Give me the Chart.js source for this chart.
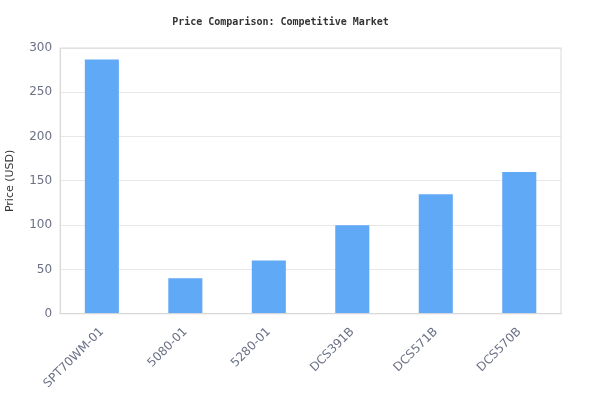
<!DOCTYPE html>
<html>
<head>
<meta charset="utf-8">
<script src="https://cdn.jsdelivr.net/npm/chart.js@4"></script>
<style>
  body { margin: 0; background: #fff; }
  #wrap { width: 600px; height: 420px; }
</style>
</head>
<body>
<div id="wrap"><canvas id="chart"></canvas></div>
<script>
const models = ["SPT70WM-01", "5080-01", "5280-01", "DCS391B", "DCS571B", "DCS570B"];
const prices = [287, 40, 60, 100, 135, 160];

// draws the light frame around the plot area
const frame = {
  id: "frame",
  afterDatasetsDraw(chart) {
    const { ctx, chartArea: a } = chart;
    ctx.save();
    ctx.strokeStyle = "#d9d9d9";
    ctx.lineWidth = 1;
    ctx.strokeRect(a.left, a.top, a.right - a.left, a.bottom - a.top);
    ctx.restore();
  },
};

new Chart(document.getElementById("chart"), {
  type: "bar",
  data: {
    labels: models,
    datasets: [{
      label: "Price (USD)",
      data: prices,
      backgroundColor: "#60a9f6",
      categoryPercentage: 0.8,
      barPercentage: 0.51,
    }],
  },
  options: {
    responsive: true,
    maintainAspectRatio: false,
    animation: false,
    layout: { padding: { left: 0, right: 39, top: 10, bottom: 26 } },
    plugins: {
      legend: { display: false },
      tooltip: { enabled: false },
      title: {
        display: true,
        text: "Price Comparison: Competitive Market",
        color: "#333",
        font: { family: "DejaVu Sans Mono", size: 10, weight: "bold" },
        padding: { top: 6, bottom: 20 },
      },
    },
    scales: {
      x: {
        grid: { display: false },
        border: { color: "#d9d9d9" },
        ticks: {
          color: "#6b7085",
          font: { family: "DejaVu Sans", size: 12 },
          maxRotation: 45,
          minRotation: 45,
        },
      },
      y: {
        min: 0,
        max: 300,
        ticks: {
          stepSize: 50,
          color: "#6b7085",
          font: { family: "DejaVu Sans", size: 12 },
          padding: 8,
        },
        grid: { color: "#e8e8e8", drawTicks: false },
        border: { color: "#d9d9d9" },
        title: {
          display: true,
          text: "Price (USD)",
          color: "#333",
          font: { family: "DejaVu Sans", size: 11 },
        },
      },
    },
  },
  plugins: [frame],
});
</script>
</body>
</html>
